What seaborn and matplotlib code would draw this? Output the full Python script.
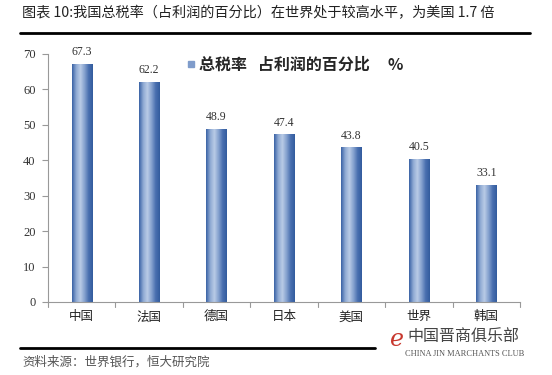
import numpy as np
import pandas as pd
import matplotlib
matplotlib.use("Agg")
import matplotlib.pyplot as plt
import seaborn as sns
from matplotlib.colors import LinearSegmentedColormap
from matplotlib.lines import Line2D

countries = ["中国", "法国", "德国", "日本", "美国", "世界", "韩国"]
values = [67.3, 62.2, 48.9, 47.4, 43.8, 40.5, 33.1]
y_ticks = [0, 10, 20, 30, 40, 50, 60, 70]
title = "图表 10:我国总税率（占利润的百分比）在世界处于较高水平，为美国 1.7 倍"
legend_label = "总税率   占利润的百分比     %"
source = "资料来源：世界银行，恒大研究院"

sns.set_theme(style="white")
plt.rcParams['font.family'] = ['Noto Sans CJK SC', 'DejaVu Sans']

df = pd.DataFrame({"country": countries, "value": values})

fig = plt.figure(figsize=(5.52, 3.75), dpi=100)
ax = fig.add_axes([48/552, 1-302/375, 472/552, 248/375])
sns.barplot(data=df, x="country", y="value", ax=ax, width=0.3,
            color="#4F78B8", saturation=1, edgecolor="none")

# cylinder-like gradient fill on each bar
cmap = LinearSegmentedColormap.from_list(
    "cyl", ["#3B63A6", "#8FAAD3", "#B9CBE6", "#86A2CF", "#4A70B0", "#335C9E"])
grad = np.linspace(0, 1, 64).reshape(1, -1)
for p in ax.patches:
    x0, y0 = p.get_x(), p.get_y()
    w, h = p.get_width(), p.get_height()
    im = ax.imshow(grad, cmap=cmap, aspect="auto",
                   extent=[x0, x0 + w, y0, y0 + h], zorder=p.get_zorder() + 0.1)
    im.set_clip_path(p)

for i, v in enumerate(values):
    ax.text(i, v + 1.5, f"{v:.1f}", ha="center", va="bottom",
            fontsize=8.5, family="Liberation Serif", color="#333333")

ax.set_xlim(-0.5, len(countries) - 0.5)
ax.set_ylim(0, 70)
ax.set_yticks(y_ticks)
ax.set_yticklabels([str(t) for t in y_ticks], family="Liberation Serif",
                   fontsize=9, color="#333333")
ax.set_xlabel("")
ax.set_ylabel("")
ax.tick_params(axis="x", length=0, pad=6, labelsize=9, labelcolor="#222222")
ax.tick_params(axis="y", length=4, width=0.8, color="#999999", pad=5, left=True)
for s in ["top", "right"]:
    ax.spines[s].set_visible(False)
for s in ["left", "bottom"]:
    ax.spines[s].set_color("#999999")
    ax.spines[s].set_linewidth(0.8)
# category separator ticks on x axis
for b in np.arange(-0.5, len(countries) + 0.5, 1.0):
    ax.plot([b, b], [0, -1.3], color="#999999", lw=0.8, clip_on=False)

# legend
handle = Line2D([], [], marker="s", linestyle="none", markersize=5,
                markerfacecolor="#7F9CCB", markeredgecolor="#7F9CCB")
ax.legend([handle], [legend_label], loc="upper left",
          bbox_to_anchor=(130/472, 1 - (63-54)/248 + 0.05), frameon=False,
          prop={"family": "Noto Sans CJK SC", "size": 11.5, "weight": "bold"},
          handletextpad=0.1, borderaxespad=0, handlelength=0.8)

# title and decorative lines
fig.text(22/552, 1-13/375, title, fontsize=10.2, va="center", ha="left", color="#222222")
fig.add_artist(Line2D([20/552, 530/552], [1-33/375, 1-33/375], color="black", lw=2))
fig.add_artist(Line2D([20/552, 375/552], [1-348/375, 1-348/375], color="black", lw=2))
fig.text(22/552, 1-362/375, source, fontsize=9, va="center", ha="left", color="#555555")

# watermark logo text
fig.text(390/552, 1-340/375, "e", fontsize=17, color="#C8382E", va="center",
         ha="left", style="italic", family="DejaVu Serif")
fig.text(407/552, 1-336/375, "中国晋商俱乐部", fontsize=11.5, color="#444444",
         va="center", ha="left")
fig.text(405/552, 1-354/375, "CHINA JIN MARCHANTS CLUB", fontsize=6,
         color="#555555", va="center", ha="left", family="Liberation Serif")

fig.savefig("out.png", dpi=100)
